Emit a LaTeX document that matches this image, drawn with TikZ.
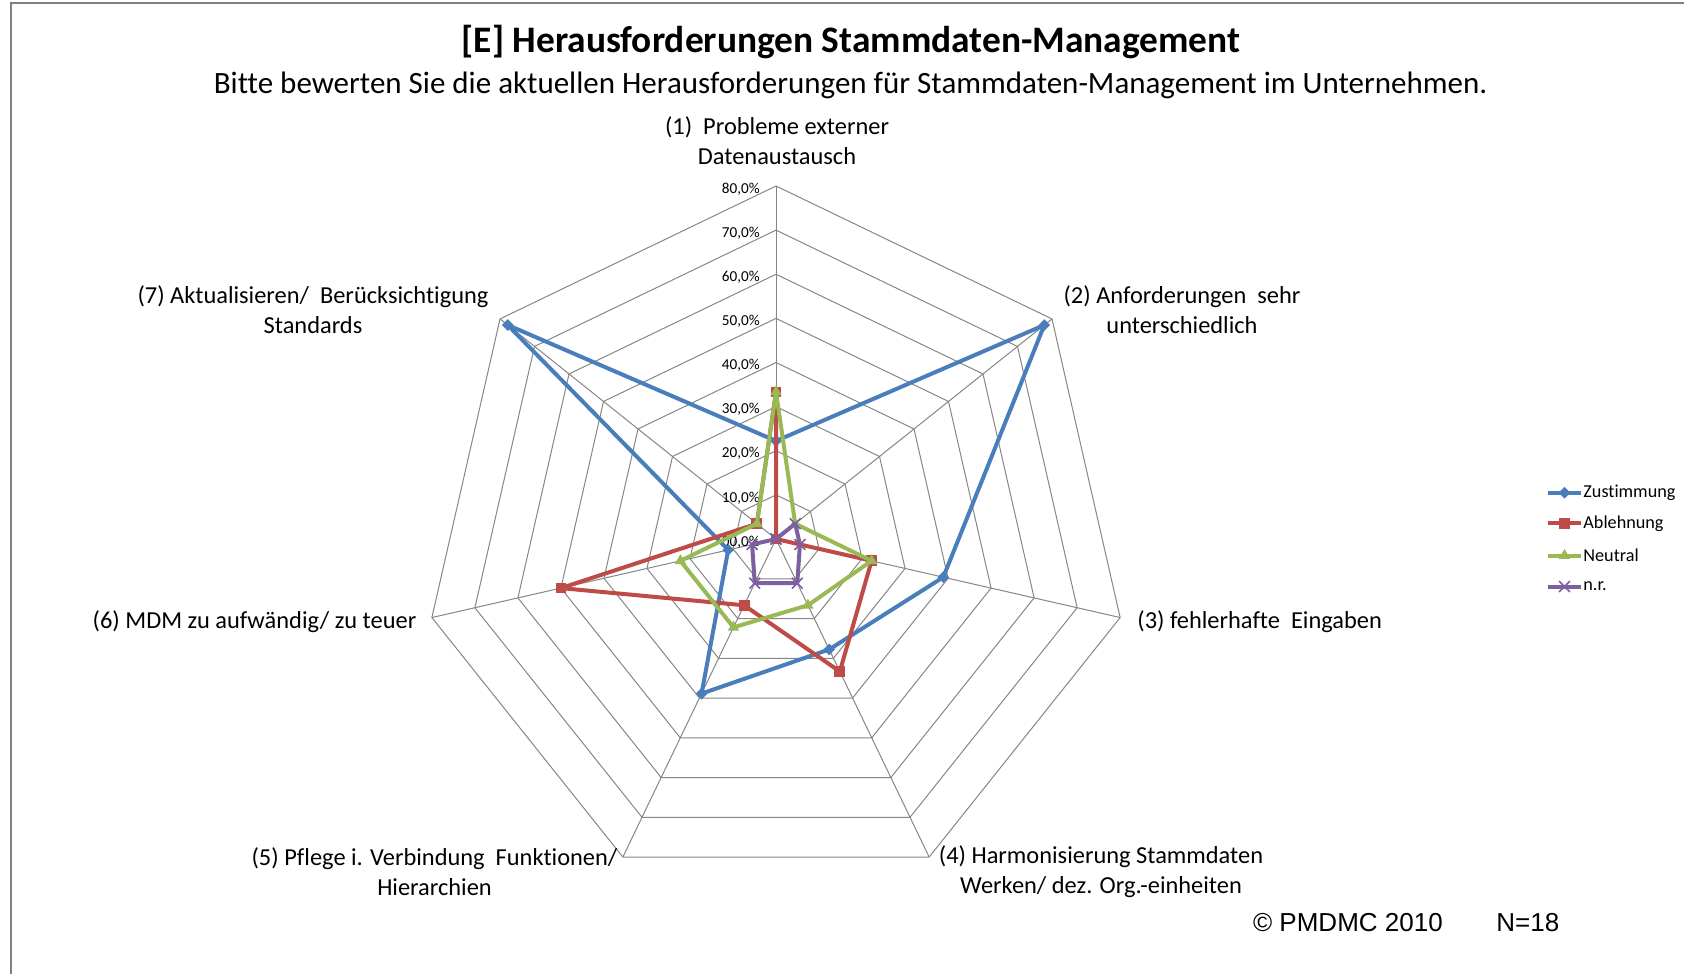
\documentclass[tikz,border=0pt]{standalone}
\usepackage{fontspec}
\setmainfont{Carlito}[Ligatures=NoCommon]
\newfontfamily\arialfont{Liberation Sans}
\usetikzlibrary{shapes.geometric,shapes.misc}
\definecolor{zblue}{RGB}{74,126,187}
\definecolor{ared}{RGB}{190,75,72}
\definecolor{ngreen}{RGB}{152,185,84}
\definecolor{npurple}{RGB}{125,96,160}
\definecolor{gridgray}{RGB}{134,134,134}
\definecolor{framegray}{RGB}{128,128,128}
\tikzset{
  gridline/.style={draw=gridgray, line width=0.5pt},
  ser/.style={line width=2pt, line join=round},
  zmark/.style={diamond, fill=zblue, inner sep=0pt, minimum size=6pt},
  amark/.style={rectangle, fill=ared, inner sep=0pt, minimum size=5.4pt},
  nmark/.style={regular polygon, regular polygon sides=3, fill=ngreen, inner sep=0pt, minimum size=6.6pt},
  pmark/.style={cross out, draw=npurple, line width=0.8pt, inner sep=0pt, minimum size=4.6pt},
  axlabel/.style={inner sep=0pt, align=center, font=\fontsize{12.2pt}{15pt}\selectfont},
  ticklabel/.style={inner sep=0pt, anchor=east, font=\fontsize{7.6pt}{9pt}\selectfont},
  leglabel/.style={inner sep=0pt, anchor=west, font=\fontsize{9.1pt}{11pt}\selectfont},
}
\begin{document}
\begin{tikzpicture}[x=0.5pt,y=-0.5pt]
\useasboundingbox (0,0) rectangle (1684,974);
% frame
\draw[framegray, line width=1pt] (10.5,974) -- (10.5,3) -- (1684,3);
% titles
\node[inner sep=0pt, font=\bfseries\fontsize{18.7pt}{21pt}\selectfont] (title) at (851,42) {[E] Herausforderungen Stammdaten-Management};
\node[inner sep=0pt, font=\fontsize{15.5pt}{18pt}\selectfont] (subtitle) at (850.5,85) {Bitte bewerten Sie die aktuellen Herausforderungen für Stammdaten-Management im Unternehmen.};
% radar
\begin{scope}[shift={(776,539)}, yscale=-1]
  \foreach \r in {1,...,8}
    \draw[gridline] (90:\r*44.125) \foreach \k in {1,...,6}{ -- ({90-\k*360/7}:\r*44.125)} -- cycle;
  \foreach \k in {0,...,6}
    \draw[gridline] (0,0) -- ({90-\k*360/7}:353);
  \foreach \t in {0,...,8}
    \node[ticklabel] (tick\t) at (-16,\t*44.125-3) {\t0,0\%};
  % data
  \foreach \v [count=\i from 0] in {22.22,77.78,38.89,27.78,38.89,11.11,77.78}
    \coordinate (z\i) at ({90-\i*360/7}:{\v*4.4125});
  \foreach \v [count=\i from 0] in {33.33,0,22.22,33.33,16.67,50,5.56}
    \coordinate (a\i) at ({90-\i*360/7}:{\v*4.4125});
  \foreach \v [count=\i from 0] in {33.33,5.56,22.22,16.67,22.22,22.22,5.56}
    \coordinate (n\i) at ({90-\i*360/7}:{\v*4.4125});
  \foreach \v [count=\i from 0] in {0,5.56,5.56,11.11,11.11,5.56,0}
    \coordinate (p\i) at ({90-\i*360/7}:{\v*4.4125});
  \draw[ser, zblue] (z0) -- (z1) -- (z2) -- (z3) -- (z4) -- (z5) -- (z6) -- cycle;
  \foreach \i in {0,...,6} \node[zmark] (zm\i) at (z\i) {};
  \draw[ser, ared] (a0) -- (a1) -- (a2) -- (a3) -- (a4) -- (a5) -- (a6) -- cycle;
  \foreach \i in {0,...,6} \node[amark] (am\i) at (a\i) {};
  \draw[ser, ngreen] (n0) -- (n1) -- (n2) -- (n3) -- (n4) -- (n5) -- (n6) -- cycle;
  \foreach \i in {0,...,6} \node[nmark] (nm\i) at (n\i) {};
  \draw[ser, npurple] (p0) -- (p1) -- (p2) -- (p3) -- (p4) -- (p5) -- (p6) -- cycle;
  \foreach \i in {0,...,6} \node[pmark] (pm\i) at (p\i) {};
\end{scope}
% axis labels
\node[axlabel] (l1) at (777,141) {(1)\ \ Probleme externer\\Datenaustausch};
\node[axlabel] (l2) at (1182,310) {(2) Anforderungen\ \ sehr\\unterschiedlich};
\node[axlabel, anchor=west] (l3) at (1137,622) {(3) fehlerhafte\ \ Eingaben};
\node[axlabel] (l4) at (1101,872) {(4) Harmonisierung Stammdaten\\Werken/ dez. Org.-einheiten};
\node[axlabel] (l5) at (434.5,872) {(5) Pflege i. Verbindung\ \ Funktionen/\\Hierarchien};
\node[axlabel, anchor=east] (l6) at (416.7,622) {(6) MDM zu aufwändig/ zu teuer};
\node[axlabel] (l7) at (313,310) {(7) Aktualisieren/\ \ Berücksichtigung\\Standards};
% legend
\foreach \y/\c/\m/\t/\nm in {492.7/zblue/zmark/Zustimmung/lz, 523.3/ared/amark/Ablehnung/la, 555.5/ngreen/nmark/Neutral/ln, 586.5/npurple/pmark/n.r./lp}{
  \coordinate (\nm a) at (1548,\y);
  \coordinate (\nm b) at (1581,\y);
  \draw[ser, \c] (\nm a) -- (\nm b);
  \node[\m] (\nm m) at (1564.5,\y) {};
  \node[leglabel] (\nm t) at (1583,\y) {\t};
}
% footer
\node[inner sep=0pt, anchor=base west, font=\arialfont\fontsize{13pt}{15pt}\selectfont] (copy) at (1252.7,931.7) {© PMDMC 2010};
\node[inner sep=0pt, anchor=base west, font=\arialfont\fontsize{13pt}{15pt}\selectfont] (nval) at (1496,931.7) {N=18};
\end{tikzpicture}
\end{document}
